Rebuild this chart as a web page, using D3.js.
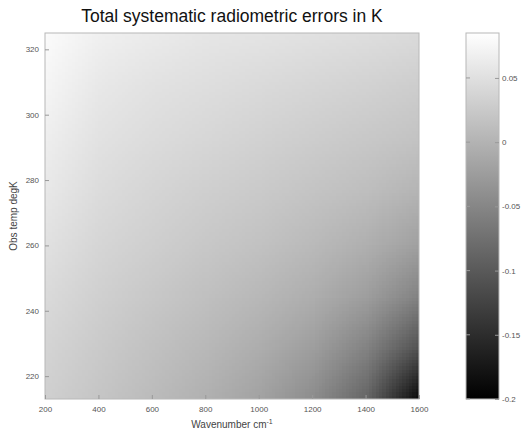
<!DOCTYPE html>
<html lang="en">
<head>
    <meta charset="UTF-8">
    <title>Total systematic radiometric errors</title>
    <script src="https://cdn.jsdelivr.net/npm/d3@7/dist/d3.min.js"></script>
    <style>
        body { margin: 0; background: #fff; }
        svg { display: block; font-family: "Liberation Sans", Arial, sans-serif; }
    </style>
</head>
<body>
<svg width="526" height="433"></svg>
<script>
    // grid nodes
    var wavenumber = [200, 400, 600, 800, 1000, 1200, 1400, 1600];
    var temperature = [213, 229, 245, 261, 277, 293, 309, 325];
    // one row per temperature (low to high), one value per wavenumber, in K
    var row213 = [0.031, 0.020, 0.009, -0.003, -0.019, -0.044, -0.088, -0.195];
    var row229 = [0.037, 0.026, 0.016, 0.006, -0.007, -0.023, -0.055, -0.111];
    var row245 = [0.044, 0.033, 0.024, 0.015, 0.006, -0.006, -0.023, -0.055];
    var row261 = [0.051, 0.039, 0.031, 0.024, 0.017, 0.008, -0.003, -0.021];
    var row277 = [0.059, 0.046, 0.038, 0.031, 0.026, 0.019, 0.012, 0.001];
    var row293 = [0.066, 0.053, 0.046, 0.040, 0.035, 0.029, 0.024, 0.018];
    var row309 = [0.074, 0.059, 0.053, 0.048, 0.044, 0.039, 0.035, 0.029];
    var row325 = [0.080, 0.068, 0.063, 0.057, 0.055, 0.051, 0.048, 0.044];
    var errors = [row213, row229, row245, row261, row277, row293, row309, row325];

    var xTicks = [200, 400, 600, 800, 1000, 1200, 1400, 1600];
    var yTicks = [220, 240, 260, 280, 300, 320];
    var cTicks = [-0.2, -0.15, -0.1, -0.05, 0, 0.05];
    var cDomain = [-0.2, 0.085];

    var plot = {left: 45, right: 419, top: 33, bottom: 399};
    var bar = {left: 466, right: 499};

    var x = d3.scaleLinear().domain([200, 1600]).range([plot.left, plot.right]);
    var y = d3.scaleLinear().domain([213, 325]).range([plot.bottom, plot.top]);
    var cy = d3.scaleLinear().domain(cDomain).range([plot.bottom, plot.top]);
    var color = d3.scaleLinear().domain(cDomain).range(["#000", "#fff"]);

    var svg = d3.select("svg");

    // field: one pixel per grid node, stretched so node centres sit on the node values
    var nx = wavenumber.length, ny = temperature.length;
    var canvas = document.createElement("canvas");
    canvas.width = nx;
    canvas.height = ny;
    var ctx = canvas.getContext("2d");
    errors.forEach(function (row, j) {
        row.forEach(function (v, i) {
            ctx.fillStyle = color(v);
            ctx.fillRect(i, ny - 1 - j, 1, 1);
        });
    });
    var dx = (wavenumber[1] - wavenumber[0]) / 2;
    var dy = (temperature[1] - temperature[0]) / 2;

    svg.append("clipPath").attr("id", "plotclip")
        .append("rect")
        .attr("x", plot.left).attr("y", plot.top)
        .attr("width", plot.right - plot.left).attr("height", plot.bottom - plot.top);

    svg.append("image")
        .attr("clip-path", "url(#plotclip)")
        .attr("preserveAspectRatio", "none")
        .attr("x", x(wavenumber[0] - dx))
        .attr("y", y(temperature[ny - 1] + dy))
        .attr("width", x(wavenumber[nx - 1] + dx) - x(wavenumber[0] - dx))
        .attr("height", y(temperature[0] - dy) - y(temperature[ny - 1] + dy))
        .attr("href", canvas.toDataURL());

    // axes frame
    svg.append("rect")
        .attr("x", plot.left).attr("y", plot.top)
        .attr("width", plot.right - plot.left).attr("height", plot.bottom - plot.top)
        .attr("fill", "none").attr("stroke", "#b8b8b8");

    var xAxis = svg.append("g")
        .attr("transform", "translate(0," + plot.bottom + ")")
        .call(d3.axisBottom(x).tickValues(xTicks).tickSize(-4).tickPadding(7).tickFormat(d3.format("d")));
    var yAxis = svg.append("g")
        .attr("transform", "translate(" + plot.left + ",0)")
        .call(d3.axisLeft(y).tickValues(yTicks).tickSize(-4).tickPadding(6).tickFormat(d3.format("d")));
    [xAxis, yAxis].forEach(function (g) {
        g.select(".domain").remove();
        g.selectAll("line").attr("stroke", "#999");
        g.selectAll("text").attr("fill", "#555").style("font-size", "8px");
    });

    // colorbar
    var grad = svg.append("defs").append("linearGradient")
        .attr("id", "cbar").attr("x1", 0).attr("y1", 1).attr("x2", 0).attr("y2", 0);
    grad.selectAll("stop")
        .data(cDomain)
        .join("stop")
        .attr("offset", function (d, i) { return i; })
        .attr("stop-color", function (d) { return color(d); });

    svg.append("rect")
        .attr("x", bar.left).attr("y", plot.top)
        .attr("width", bar.right - bar.left).attr("height", plot.bottom - plot.top)
        .attr("fill", "url(#cbar)").attr("stroke", "#b8b8b8");

    var cAxis = svg.append("g")
        .attr("transform", "translate(" + bar.right + ",0)")
        .call(d3.axisRight(cy).tickValues(cTicks).tickSize(-4).tickPadding(3).tickFormat(function (d) { return String(d); }));
    cAxis.select(".domain").remove();
    cAxis.selectAll("line").attr("stroke", "#999");
    cAxis.selectAll("text").attr("fill", "#555").style("font-size", "8px");

    svg.append("g")
        .selectAll("line")
        .data(cTicks)
        .join("line")
        .attr("x1", bar.left).attr("x2", bar.left + 4)
        .attr("y1", cy).attr("y2", cy)
        .attr("stroke", "#999");

    // titles
    svg.append("text")
        .attr("x", (plot.left + plot.right) / 2)
        .attr("y", 22)
        .attr("text-anchor", "middle")
        .style("font-size", "17.5px")
        .attr("fill", "#111")
        .text("Total systematic radiometric errors in K");

    var xl = svg.append("text")
        .attr("x", (plot.left + plot.right) / 2)
        .attr("y", 428)
        .attr("text-anchor", "middle")
        .style("font-size", "10px")
        .attr("fill", "#444")
        .text("Wavenumber cm");
    xl.append("tspan").attr("dy", -4).style("font-size", "7px").text("-1");

    svg.append("text")
        .attr("transform", "translate(17," + (plot.top + plot.bottom) / 2 + ") rotate(-90)")
        .attr("text-anchor", "middle")
        .style("font-size", "10px")
        .attr("fill", "#444")
        .text("Obs temp degK");
</script>
</body>
</html>
